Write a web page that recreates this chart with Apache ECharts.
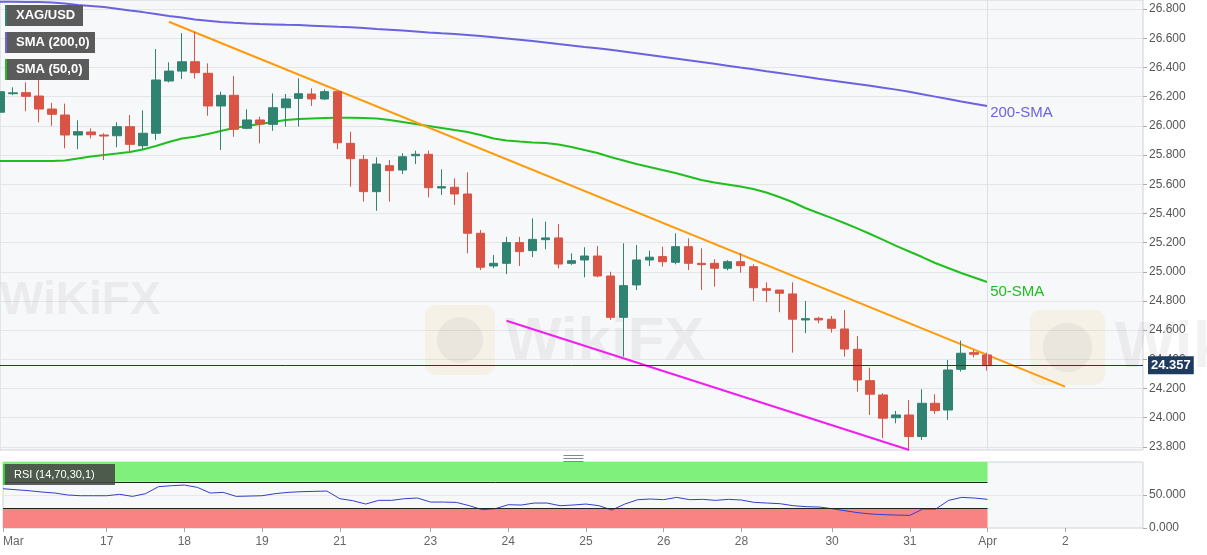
<!DOCTYPE html>
<html>
<head>
<meta charset="utf-8">
<script src="https://cdn.jsdelivr.net/npm/echarts@6/dist/echarts.min.js"></script>
<style>
  html, body { margin: 0; padding: 0; background: #fff; }
  #chart { width: 1207px; height: 555px; }
</style>
</head>
<body>
<div id="chart"></div>
<script>
// XAG/USD 4H candles: [open, close, low, high]
var candles = [
  [26.093, 26.234, 26.060, 26.270], [26.220, 26.226, 26.210, 26.264], [26.227, 26.202, 26.100, 26.298],
  [26.204, 26.115, 26.024, 26.314], [26.115, 26.079, 26.000, 26.158], [26.074, 25.937, 25.846, 26.152],
  [25.937, 25.960, 25.840, 26.037], [25.958, 25.939, 25.914, 25.983], [25.937, 25.930, 25.766, 25.949],
  [25.932, 25.994, 25.853, 26.024], [25.994, 25.873, 25.823, 26.074], [25.864, 25.949, 25.840, 26.106],
  [25.949, 26.314, 25.903, 26.526], [26.307, 26.375, 26.298, 26.435], [26.375, 26.439, 26.320, 26.634],
  [26.439, 26.364, 26.325, 26.645], [26.360, 26.136, 26.069, 26.428], [26.136, 26.209, 25.834, 26.234],
  [26.209, 25.976, 25.925, 26.341], [25.983, 26.040, 25.976, 26.113], [26.040, 26.012, 25.880, 26.063],
  [26.010, 26.124, 25.966, 26.222], [26.124, 26.184, 25.994, 26.218], [26.188, 26.220, 25.994, 26.325],
  [26.218, 26.184, 26.136, 26.257], [26.184, 26.234, 26.177, 26.250], [26.234, 25.884, 25.840, 26.240],
  [25.880, 25.775, 25.583, 25.960], [25.770, 25.549, 25.480, 25.800], [25.549, 25.738, 25.418, 25.784],
  [25.727, 25.693, 25.480, 25.766], [25.697, 25.788, 25.670, 25.812], [25.795, 25.805, 25.738, 25.830],
  [25.805, 25.576, 25.510, 25.830], [25.574, 25.583, 25.526, 25.702], [25.579, 25.533, 25.458, 25.640],
  [25.533, 25.264, 25.127, 25.681], [25.264, 25.031, 25.012, 25.286], [25.040, 25.058, 25.024, 25.115],
  [25.058, 25.200, 24.985, 25.240], [25.200, 25.138, 25.040, 25.240], [25.145, 25.222, 25.100, 25.366],
  [25.220, 25.232, 25.154, 25.343], [25.232, 25.053, 25.024, 25.327], [25.058, 25.076, 25.047, 25.127],
  [25.081, 25.108, 24.962, 25.168], [25.108, 24.971, 24.962, 25.177], [24.971, 24.688, 24.670, 25.000],
  [24.688, 24.905, 24.419, 25.195], [24.910, 25.081, 24.875, 25.184], [25.081, 25.100, 25.040, 25.145],
  [25.104, 25.069, 25.035, 25.172], [25.065, 25.172, 25.051, 25.264], [25.172, 25.058, 25.012, 25.229],
  [25.058, 25.049, 24.875, 25.160], [25.058, 25.024, 24.898, 25.086], [25.024, 25.069, 25.010, 25.080],
  [25.069, 25.042, 24.994, 25.127], [25.035, 24.891, 24.800, 25.051], [24.884, 24.873, 24.791, 24.928],
  [24.875, 24.853, 24.723, 24.875], [24.848, 24.675, 24.446, 24.928], [24.670, 24.679, 24.579, 24.800],
  [24.681, 24.670, 24.647, 24.692], [24.675, 24.613, 24.583, 24.697], [24.608, 24.471, 24.419, 24.738],
  [24.469, 24.259, 24.179, 24.560], [24.254, 24.161, 24.019, 24.343], [24.156, 23.997, 23.860, 24.168],
  [24.000, 24.019, 23.962, 24.047], [24.019, 23.871, 23.780, 24.122], [23.871, 24.099, 23.848, 24.195],
  [24.099, 24.049, 24.026, 24.161], [24.053, 24.327, 23.985, 24.396], [24.332, 24.442, 24.316, 24.528],
  [24.446, 24.435, 24.414, 24.464], [24.430, 24.357, 24.323, 24.446]
];

var sma200 = [
  26.850, 26.850, 26.849, 26.848, 26.845, 26.838, 26.827, 26.821, 26.814, 26.802,
  26.790, 26.779, 26.766, 26.752, 26.742, 26.728, 26.720, 26.712, 26.706, 26.701,
  26.697, 26.695, 26.692, 26.690, 26.686, 26.682, 26.678, 26.675, 26.670, 26.664,
  26.659, 26.653, 26.647, 26.640, 26.634, 26.629, 26.622, 26.615, 26.607, 26.599,
  26.590, 26.581, 26.571, 26.560, 26.550, 26.540, 26.532, 26.521, 26.509, 26.497,
  26.485, 26.473, 26.461, 26.449, 26.437, 26.425, 26.412, 26.399, 26.387, 26.374,
  26.362, 26.349, 26.336, 26.323, 26.311, 26.299, 26.286, 26.274, 26.261, 26.248,
  26.233, 26.216, 26.200, 26.184, 26.167, 26.151, 26.136
];

var sma50 = [
  25.759, 25.759, 25.759, 25.759, 25.759, 25.762, 25.776, 25.790, 25.800, 25.810,
  25.821, 25.838, 25.862, 25.889, 25.913, 25.925, 25.944, 25.964, 25.985, 25.999,
  26.012, 26.026, 26.040, 26.047, 26.050, 26.053, 26.055, 26.055, 26.053, 26.050,
  26.040, 26.026, 26.012, 25.999, 25.985, 25.971, 25.958, 25.937, 25.913, 25.899,
  25.892, 25.886, 25.882, 25.872, 25.855, 25.834, 25.814, 25.786, 25.762, 25.738,
  25.718, 25.697, 25.677, 25.653, 25.629, 25.612, 25.598, 25.584, 25.567, 25.543,
  25.512, 25.478, 25.437, 25.403, 25.369, 25.334, 25.297, 25.259, 25.218, 25.177,
  25.139, 25.101, 25.060, 25.026, 24.992, 24.961, 24.930
];

var rsi = [
  59.5, 58.0, 56.5, 54.5, 53.0, 50.0, 48.9, 48.9, 48.9, 51.0,
  47.9, 52.0, 62.6, 64.1, 65.1, 61.6, 53.0, 54.0, 47.9, 48.4,
  48.9, 52.0, 54.0, 55.0, 55.5, 56.0, 44.4, 41.4, 36.3, 41.9,
  41.9, 44.4, 45.4, 39.3, 39.3, 38.8, 33.8, 27.7, 29.2, 35.3,
  34.8, 37.8, 37.8, 33.8, 34.8, 36.3, 33.8, 27.2, 36.3, 42.9,
  43.9, 42.9, 46.4, 42.9, 43.4, 41.9, 43.4, 42.4, 38.8, 37.8,
  36.8, 33.8, 32.3, 31.8, 29.2, 26.2, 23.2, 21.2, 20.2, 19.6,
  19.1, 28.7, 28.7, 41.9, 46.4, 45.4, 43.4
];

var lastPrice = 24.357;
var resistance = [[13, 26.713], [82, 24.213]];
var support = [[39, 24.665], [70, 23.779]];

var priceTicks = [23.8, 24.0, 24.2, 24.4, 24.6, 24.8, 25.0, 25.2, 25.4, 25.6, 25.8, 26.0, 26.2, 26.4, 26.6, 26.8];
var rsiTicks = [0, 50];
var labelIdx = [0, 8, 14, 20, 26, 33, 39, 45, 51, 57, 64, 70, 76, 82];
var labelText = ['Mar', '17', '18', '19', '21', '23', '24', '25', '26', '28', '30', '31', 'Apr', '2'];

var slots = [];
for (var i = 0; i < 89; i++) slots.push(String(i));

var showIdx = function (idx) { return labelIdx.indexOf(idx) >= 0; };

var FONT = 'Liberation Sans, Arial, sans-serif';
var UP = '#2f8370', DOWN = '#d95444';

// graphic children don't inherit a group's z, so set it on each element
function legendBox(x, y, w, h, stripe, text, bg, font) {
  return {
    type: 'group', left: x, top: y,
    children: [
      { type: 'rect', z: 20, shape: { x: 0, y: 0, width: w, height: h }, style: { fill: bg || '#5b5b5b' } },
      { type: 'rect', z: 21, shape: { x: 0, y: 0, width: 2, height: h }, style: { fill: stripe } },
      { type: 'text', z: 22, x: 11, y: h / 2, style: { text: text, fill: '#fff', font: font || ('bold 13px ' + FONT), verticalAlign: 'middle' } }
    ]
  };
}

function watermark(x, y, size) {
  return {
    type: 'group', left: x, top: y, silent: true,
    children: [
      { type: 'rect', z: 1, shape: { x: 0, y: 0, width: size, height: size, r: 10 }, style: { fill: 'rgba(240,200,120,0.14)' } },
      { type: 'circle', z: 1, shape: { cx: size / 2, cy: size / 2, r: size * 0.33 }, style: { fill: 'rgba(150,150,150,0.11)' } },
      { type: 'text', z: 1, x: size + 10, y: size * 0.1, style: { text: 'WikiFX', fill: 'rgba(150,150,150,0.12)', font: 'bold ' + Math.round(size * 0.85) + 'px ' + FONT } }
    ]
  };
}

var chart = echarts.init(document.getElementById('chart'));
chart.setOption({
  animation: false,
  backgroundColor: '#fff',
  textStyle: { fontFamily: FONT },
  grid: [
    { left: 0, right: 64, top: 0, height: 450, show: true, backgroundColor: '#f7f8fa', borderColor: '#cfd3d8', borderWidth: 1 },
    { left: 0, right: 64, top: 462, height: 66, show: true, backgroundColor: '#f7f8fa', borderColor: '#cfd3d8', borderWidth: 1 }
  ],
  xAxis: [
    { type: 'category', gridIndex: 0, data: slots, boundaryGap: false,
      axisLine: { show: false }, axisTick: { show: false }, axisLabel: { show: false }, splitLine: { show: false } },
    { type: 'category', gridIndex: 1, data: slots, boundaryGap: false,
      axisLine: { show: false },
      axisTick: { show: true, interval: showIdx, length: 4, lineStyle: { color: '#aaa' } },
      axisLabel: { interval: showIdx, color: '#666', fontSize: 12, margin: 8, alignMinLabel: 'left',
        formatter: function (v, idx) { var k = labelIdx.indexOf(idx); return k >= 0 ? labelText[k] : ''; } },
      splitLine: { show: false } }
  ],
  yAxis: [
    { type: 'value', gridIndex: 0, position: 'right', min: 23.779, max: 26.862, scale: true,
      axisLine: { show: false },
      axisTick: { show: true, length: 4, customValues: priceTicks, lineStyle: { color: '#aaa' } },
      axisLabel: { customValues: priceTicks, color: '#555', fontSize: 12, margin: 6,
        formatter: function (v) { return v.toFixed(3); } },
      splitLine: { show: true, lineStyle: { color: '#e3e5e8' } } },
    { type: 'value', gridIndex: 1, position: 'right', min: 0, max: 100,
      axisLine: { show: false },
      axisTick: { show: true, length: 4, customValues: rsiTicks, lineStyle: { color: '#aaa' } },
      axisLabel: { customValues: rsiTicks, color: '#555', fontSize: 12, margin: 6,
        formatter: function (v) { return v.toFixed(3); } },
      splitLine: { show: true, lineStyle: { color: '#e8e8e8' } } }
  ],
  series: [
    {
      name: 'XAG/USD', type: 'candlestick', xAxisIndex: 0, yAxisIndex: 0, barWidth: 9, z: 3,
      data: candles.map(function (c) { return [c[0], c[1], c[2], c[3]]; }),
      itemStyle: { color: UP, color0: DOWN, borderColor: UP, borderColor0: DOWN, borderWidth: 1 },
      markLine: {
        silent: true, symbol: 'none', animation: false,
        data: [
          { xAxis: 76, lineStyle: { color: '#dcdfe3', width: 1, type: 'solid' }, label: { show: false } },
          { yAxis: lastPrice, lineStyle: { color: '#1f3a5f', width: 1, type: 'solid' },
            label: { show: true, position: 'end', distance: 5, formatter: lastPrice.toFixed(3),
              color: '#fff', backgroundColor: '#1f3a5f', fontWeight: 'bold', fontSize: 13, padding: [3, 3, 2, 3] } }
        ]
      }
    },
    {
      name: 'SMA (200,0)', type: 'line', xAxisIndex: 0, yAxisIndex: 0, data: sma200, showSymbol: false, z: 2,
      lineStyle: { color: '#6a63e0', width: 2 },
      endLabel: { show: true, formatter: '200-SMA', color: '#6a63e0', fontSize: 15, offset: [-5, 7] }
    },
    {
      name: 'SMA (50,0)', type: 'line', xAxisIndex: 0, yAxisIndex: 0, data: sma50, showSymbol: false, z: 2,
      lineStyle: { color: '#1fbf1f', width: 2 },
      endLabel: { show: true, formatter: '50-SMA', color: '#1fbf1f', fontSize: 15, offset: [-5, 10] }
    },
    {
      name: 'resistance', type: 'line', xAxisIndex: 0, yAxisIndex: 0, data: resistance, showSymbol: false, z: 2,
      lineStyle: { color: '#ff9a0a', width: 2 }
    },
    {
      name: 'support', type: 'line', xAxisIndex: 0, yAxisIndex: 0, data: support, showSymbol: false, z: 2,
      lineStyle: { color: '#f01ef0', width: 2 }
    },
    {
      name: 'RSI', type: 'line', xAxisIndex: 1, yAxisIndex: 1, data: rsi, showSymbol: false, z: 3,
      lineStyle: { color: '#3240c8', width: 1 },
      markArea: {
        silent: true, z: 1,
        data: [
          [{ xAxis: 0, yAxis: 70, itemStyle: { color: '#80f07c' } }, { xAxis: 76, yAxis: 100 }],
          [{ xAxis: 0, yAxis: 0, itemStyle: { color: '#f98382' } }, { xAxis: 76, yAxis: 30 }]
        ]
      },
      markLine: {
        silent: true, symbol: 'none', label: { show: false }, z: 5,
        lineStyle: { color: '#222', width: 1, type: 'solid' },
        data: [
          [{ coord: [0, 70] }, { coord: [76, 70] }],
          [{ coord: [0, 30] }, { coord: [76, 30] }]
        ]
      }
    }
  ],
  graphic: [
    watermark(425, 305, 70),
    watermark(1030, 310, 75),
    { type: 'text', left: 0, top: 278, z: 1, silent: true,
      style: { text: 'WiKiFX', fill: 'rgba(150,150,150,0.12)', font: 'bold 46px ' + FONT } },
    legendBox(5, 5, 78, 21, '#2f8370', 'XAG/USD'),
    legendBox(5, 32, 90, 21, '#6a63e0', 'SMA (200,0)'),
    legendBox(5, 59, 84, 21, '#1fbf1f', 'SMA (50,0)'),
    legendBox(3, 464, 112, 21, '#2fd02f', 'RSI (14,70,30,1)', 'rgba(70,70,70,0.88)', '11px ' + FONT),
    { type: 'group', left: 561, top: 453,
      children: [
        { type: 'line', z: 20, shape: { x1: 0, y1: 0.5, x2: 20, y2: 0.5 }, style: { stroke: '#888', lineWidth: 1 } },
        { type: 'line', z: 20, shape: { x1: 0, y1: 3.5, x2: 20, y2: 3.5 }, style: { stroke: '#888', lineWidth: 1 } },
        { type: 'line', z: 20, shape: { x1: 0, y1: 6.5, x2: 20, y2: 6.5 }, style: { stroke: '#888', lineWidth: 1 } }
      ]
    }
  ]
});
</script>
</body>
</html>
